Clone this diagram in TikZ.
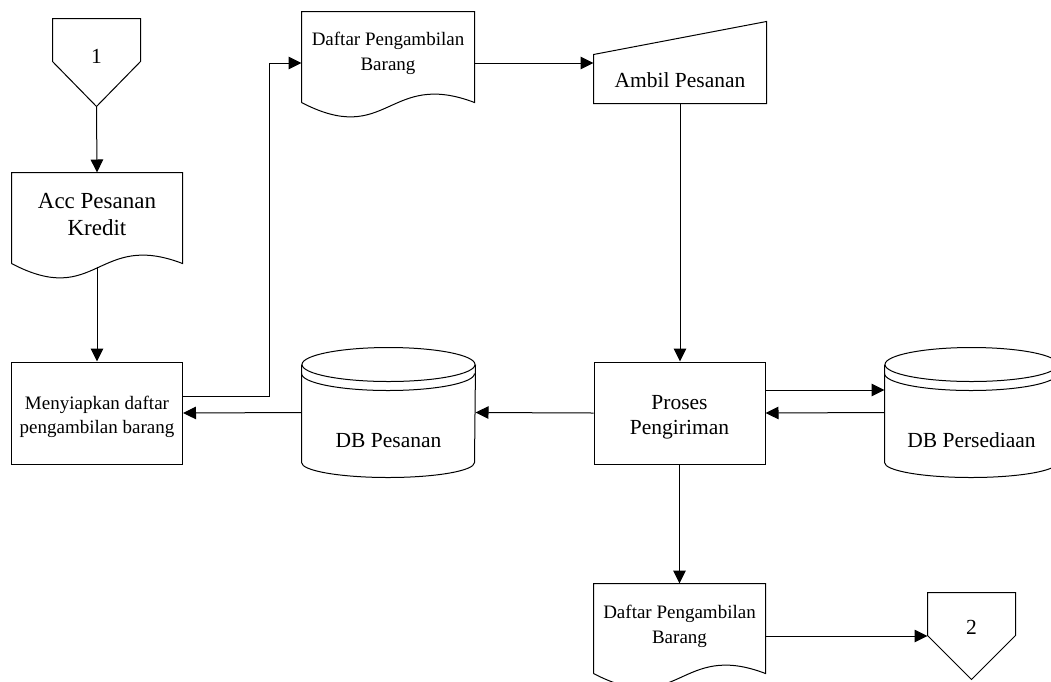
\documentclass[tikz,border=0pt]{standalone}
\usepackage{fontspec}
\setmainfont{Liberation Serif}
\usetikzlibrary{arrows.meta,calc}

% text block whose ink is moved vertically while the box keeps its size
\newcommand\shiftedtext[2]{\raisebox{#1}[\height][\depth]{\begin{tabular}{@{}c@{}}#2\end{tabular}}}

% document symbol with a wavy lower edge
\newcommand\docshape[1]{%
  \draw (#1.south west) -- (#1.north west) -- (#1.north east) -- (#1.south east)
    .. controls ($(#1.south)+(0,-33)$) and ($(#1.south)+(0,45)$) .. (#1.south west);}
% off-page connector (pentagon pointing down)
\newcommand\offpage[1]{%
  \draw (#1.north west) -- (#1.north east) -- ($(#1.north east)+(0,43)$)
    -- (#1.south) -- ($(#1.north west)+(0,43)$) -- cycle;}
% manual input (sloped top edge)
\newcommand\manualin[1]{%
  \draw (#1.south west) -- ($(#1.north west)+(0,33)$) -- (#1.north east)
    -- (#1.south east) -- cycle;}
% database cylinder with a doubled rim
\newcommand\dbshape[1]{%
  \draw ($(#1.north west)+(0,17)$) -- ($(#1.south west)+(0,-15)$)
    arc[start angle=180,end angle=360,x radius=86.5pt,y radius=15pt]
    -- ($(#1.north east)+(0,17)$);
  \draw ($(#1.north)+(0,17)$) ellipse[x radius=86.5pt,y radius=17pt];
  \draw ($(#1.north west)+(0,26)$)
    arc[start angle=180,end angle=360,x radius=86.5pt,y radius=17pt];}

\begin{document}
\begin{tikzpicture}[x=1pt,y=-1pt,line width=1pt,
  flow/.style={-{Triangle[length=13pt,width=12.5pt]}},
  shapebox/.style={draw=none,inner sep=0pt,align=center},
  bigtext/.style={font=\fontsize{23}{27}\selectfont},
  midtext/.style={font=\fontsize{21.5}{25}\selectfont},
  smalltext/.style={font=\fontsize{19}{24.5}\selectfont},
  stepbox/.style={draw,inner sep=0pt,align=center,minimum width=171pt,minimum height=102pt}]

\clip (0,0) rectangle (1051,681);
\fill[white] (0,0) rectangle (1051,681);

% ---- nodes ----
\node[shapebox,midtext,minimum width=87pt,minimum height=87pt] (c1) at (96.5,62.5)
  {\shiftedtext{4.5pt}{1}};
\node[shapebox,bigtext,minimum width=170pt,minimum height=90pt] (acc) at (97,218)
  {\shiftedtext{1pt}{Acc Pesanan\\Kredit}};
\node[stepbox,smalltext] (mk) at (97,413)
  {\shiftedtext{-3.5pt}{Menyiapkan daftar\\pengambilan barang}};
\node[shapebox,smalltext,minimum width=172pt,minimum height=90pt] (d1) at (388,57)
  {\shiftedtext{4pt}{Daftar Pengambilan\\Barang}};
\node[shapebox,midtext,minimum width=172pt,minimum height=81pt] (amb) at (680,62.5)
  {\shiftedtext{-19.5pt}{Ambil Pesanan}};
\node[stepbox,midtext] (pr) at (679.5,413)
  {\shiftedtext{-4pt}{Proses\\Pengiriman}};
\node[shapebox,midtext,minimum width=173pt,minimum height=129pt] (dbp) at (388.5,412.5)
  {\shiftedtext{-30pt}{DB Pesanan}};
\node[shapebox,midtext,minimum width=173pt,minimum height=129pt] (dbs) at (971.5,412.5)
  {\shiftedtext{-30pt}{DB Persediaan}};
\node[shapebox,smalltext,minimum width=171pt,minimum height=89pt] (d2) at (679.5,628.5)
  {\shiftedtext{2.5pt}{Daftar Pengambilan\\Barang}};
\node[shapebox,midtext,minimum width=87pt,minimum height=86pt] (c2) at (971.5,636)
  {\shiftedtext{7pt}{2}};

% ---- outlines ----
\offpage{c1}
\docshape{acc}
\docshape{d1}
\manualin{amb}
\dbshape{dbp}
\dbshape{dbs}
\docshape{d2}
\offpage{c2}

% ---- connectors ----
\draw[flow] (c1.south) -- (acc.north);
\draw[flow] ($(acc.south)+(0,3)$) -- (mk.north);
\coordinate (d1in) at ($(d1.west)+(0,6)$);
\draw[flow] ($(mk.east)+(0,-17)$) -| ($(d1in)+(-32,0)$) -- (d1in);
\coordinate (d1out) at ($(d1.east)+(0,6)$);
\draw[flow] (d1out) -- (d1out -| amb.west);
\draw[flow] (amb.south) -- (amb.south |- pr.north);
\draw[flow] (pr.west) -- (dbp.east);
\draw[flow] (dbp.west) -- (mk.east);
\coordinate (prout) at ($(pr.east)+(0,-23)$);
\draw[flow] (prout) -- (prout -| dbs.west);
\draw[flow] (dbs.west) -- (pr.east);
\draw[flow] (pr.south) -- (d2.north);
\coordinate (d2out) at ($(d2.east)+(0,7.5)$);
\draw[flow] (d2out) -- (c2.west);

\end{tikzpicture}
\end{document}
